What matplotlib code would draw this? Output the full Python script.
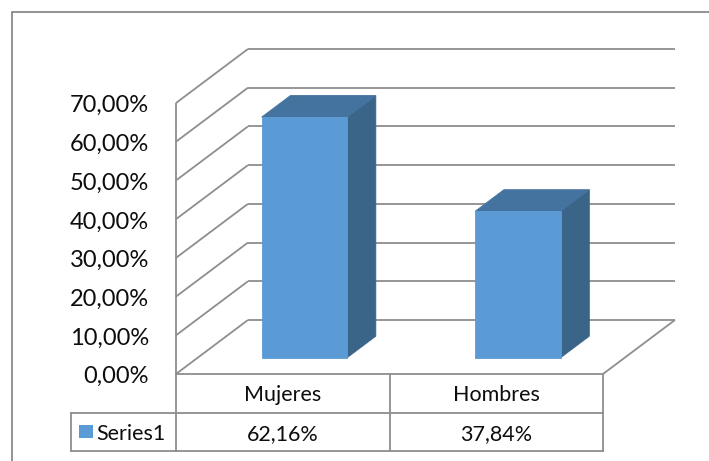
import matplotlib.pyplot as plt
from matplotlib.patches import Polygon, Rectangle

categories = ["Mujeres", "Hombres"]
values = [62.16, 37.84]
series_name = "Series1"
yticks = [0, 10, 20, 30, 40, 50, 60, 70]


def pct(v):
    return f"{v:.2f}%".replace(".", ",")


plt.rcParams["font.family"] = ["Lato", "DejaVu Sans"]

W, H = 709, 461
fig = plt.figure(figsize=(W / 100, H / 100), dpi=100)

# front plane of the 3d box: x in category units, y in percent
ax = fig.add_axes([176 / W, (H - 374) / H, 427 / W, 271 / H])
ax.set_xlim(0, len(categories))
ax.set_ylim(0, yticks[-1])
ax.axis("off")

# oblique depth offset of the back wall, in data units
DX, DY = 0.337, 13.95
grid_kw = dict(color="#8e8e8e", lw=1.3, clip_on=False, solid_capstyle="butt")
n = len(categories)
txt_c = "#0d0d0d"

# side wall, back wall and floor
ax.plot([0, 0], [0, yticks[-1]], **grid_kw)
for t in yticks:
    ax.plot([0, DX], [t, t + DY], **grid_kw)
    ax.plot([DX, n + DX], [t + DY, t + DY], **grid_kw)
ax.plot([n, n + DX], [0, DY], **grid_kw)

# tick labels
for t in yticks:
    ax.text(-0.126, t - 0.7, pct(t), ha="right", va="center",
            fontsize=17, color=txt_c, clip_on=False)

# 3d columns
front_c, side_c, top_c = "#5b9bd5", "#3a6488", "#44739f"
bw, z0, z1 = 0.4, 0.3, 0.7
for i, v in enumerate(values):
    x0 = i + 0.5 - bw / 2
    x1 = x0 + bw
    ax0, ay0 = z0 * DX, z0 * DY
    ax1, ay1 = z1 * DX, z1 * DY
    side = [(x1 + ax0, ay0), (x1 + ax1, ay1), (x1 + ax1, v + ay1), (x1 + ax0, v + ay0)]
    top = [(x0 + ax0, v + ay0), (x1 + ax0, v + ay0), (x1 + ax1, v + ay1), (x0 + ax1, v + ay1)]
    front = [(x0 + ax0, ay0), (x1 + ax0, ay0), (x1 + ax0, v + ay0), (x0 + ax0, v + ay0)]
    for pts, c in ((side, side_c), (top, top_c), (front, front_c)):
        ax.add_patch(Polygon(pts, closed=True, facecolor=c, edgecolor=c,
                             lw=0.6, clip_on=False, zorder=3))

# data table under the floor
row_h = 10
left = -0.49
tbl_kw = dict(color="#8e8e8e", lw=1.3, clip_on=False)
ax.plot([0, n], [0, 0], **tbl_kw)
ax.plot([left, n], [-row_h, -row_h], **tbl_kw)
ax.plot([left, n], [-2 * row_h, -2 * row_h], **tbl_kw)
ax.plot([left, left], [-row_h, -2 * row_h], **tbl_kw)
for xv in range(n + 1):
    ax.plot([xv, xv], [0, -2 * row_h], **tbl_kw)

for i, (cat, v) in enumerate(zip(categories, values)):
    ax.text(i + 0.5, -row_h / 2 - 0.5, cat, ha="center", va="center",
            fontsize=15.5, color=txt_c, clip_on=False)
    ax.text(i + 0.5, -1.5 * row_h - 0.5, pct(v), ha="center", va="center",
            fontsize=15.5, color=txt_c, clip_on=False)

ax.add_patch(Rectangle((-0.454, -16.5), 0.065, 3.3, facecolor=front_c,
                       edgecolor="none", clip_on=False))
ax.text(-0.372, -1.5 * row_h - 0.5, series_name, ha="left", va="center",
        fontsize=15.5, color=txt_c, clip_on=False)

# chart area border
fig.patches.append(Rectangle((12 / W, -0.05), 1.2, (H - 12) / H + 0.05,
                             transform=fig.transFigure, facecolor="none",
                             edgecolor="#8a8a8a", lw=1.3))

fig.savefig("out.png", dpi=100, facecolor="white")
